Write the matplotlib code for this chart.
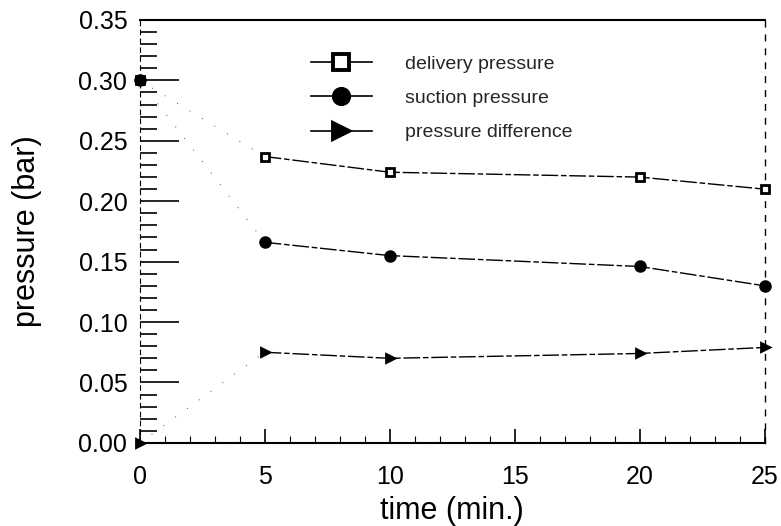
import matplotlib
matplotlib.use("Agg")
import matplotlib.pyplot as plt
from matplotlib.ticker import MultipleLocator, FormatStrFormatter

plt.rcParams['font.family'] = ['Liberation Sans', 'DejaVu Sans']

time = [0, 5, 10, 20, 25]
delivery = [0.300, 0.237, 0.224, 0.220, 0.210]
suction = [0.300, 0.166, 0.155, 0.146, 0.130]
difference = [0.000, 0.075, 0.070, 0.074, 0.079]

fig = plt.figure(figsize=(7.81, 5.26), dpi=100)
ax = fig.add_axes([0.179, 0.158, 0.800, 0.804])

series = [
    (delivery, 's', 'white', 6, 'delivery pressure'),
    (suction, 'o', 'black', 7, 'suction pressure'),
    (difference, '>', 'black', 6, 'pressure difference'),
]
for vals, mk, fc, ms, lab in series:
    # first segment is only faintly printed (sparse dots)
    ax.plot(time[:2], vals[:2], color='0.3', lw=0.7, ls=(0, (1, 14)), clip_on=False)
    ax.plot(time[1:], vals[1:], color='black', lw=1.0, ls=(0, (12, 2, 4, 2)),
            clip_on=False)
    ax.plot(time, vals, ls='none', marker=mk, ms=ms, mfc=fc, mec='black',
            mew=2.0, clip_on=False, zorder=5)
    ax.plot([], [], color='black', lw=1.2, marker=mk, ms=11, mfc=fc,
            mec='black', mew=2.8, label=lab)

ax.set_xlim(0, 25)
ax.set_ylim(0, 0.35)
ax.xaxis.set_major_locator(MultipleLocator(5))
ax.xaxis.set_minor_locator(MultipleLocator(1))
ax.yaxis.set_major_locator(MultipleLocator(0.05))
ax.yaxis.set_minor_locator(MultipleLocator(0.01))
ax.yaxis.set_major_formatter(FormatStrFormatter('%.2f'))

ax.tick_params(axis='both', which='major', direction='in', labelsize=18,
               width=1.2)
ax.tick_params(axis='y', which='major', length=28, pad=9)
ax.tick_params(axis='x', which='major', length=10, pad=16)
ax.tick_params(axis='y', which='minor', direction='in', length=12, width=1.2)
ax.tick_params(axis='x', which='minor', direction='in', length=5, width=0.8)

ax.spines['right'].set_linestyle((0, (4, 6)))
ax.spines['right'].set_linewidth(1.0)
ax.spines['left'].set_linestyle((0, (4, 4)))
ax.spines['left'].set_linewidth(0.8)
ax.spines['top'].set_linewidth(1.5)
ax.spines['bottom'].set_linewidth(1.5)

ax.set_xlabel('time (min.)', fontsize=22, labelpad=5)
ax.set_ylabel('pressure (bar)', fontsize=22, labelpad=26)

ax.legend(loc='upper left', bbox_to_anchor=(0.259, 0.939), frameon=False,
          fontsize=14, handlelength=3.1, handletextpad=1.7, labelspacing=0.85,
          borderpad=0, labelcolor='0.15')

fig.savefig('out.png', dpi=100)
